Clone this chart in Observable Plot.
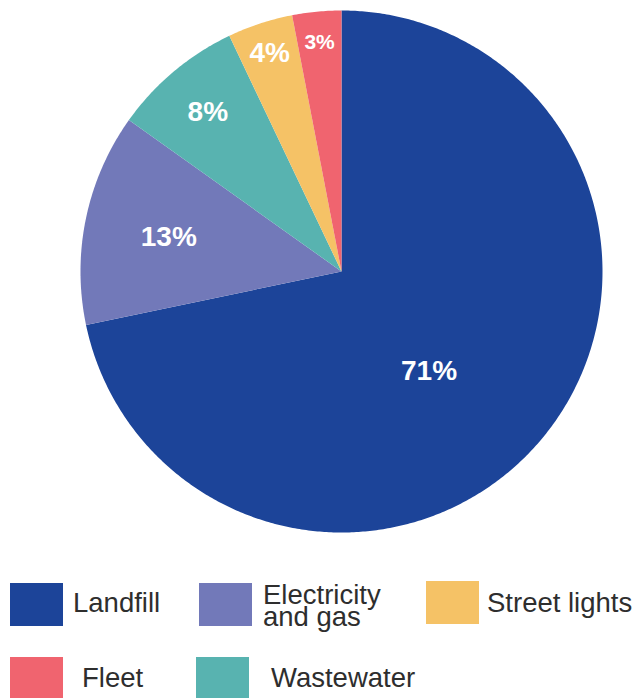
<!DOCTYPE html>
<html>
<head>
<meta charset="utf-8">
<script src="https://cdn.jsdelivr.net/npm/d3@7"></script>
<script src="https://cdn.jsdelivr.net/npm/@observablehq/plot@0.6"></script>
<style>
  html, body { margin: 0; padding: 0; background: #fff; }
  #wrap { position: relative; width: 635px; height: 698px; overflow: hidden; }
  #chart svg { display: block; }
  .sw { position: absolute; width: 53px; height: 43px; }
  .lab { position: absolute; font-family: "Liberation Sans", Arial, sans-serif; font-size: 27.5px; color: #2e2e2e; line-height: 22px; height: 22px; white-space: nowrap; }
</style>
</head>
<body>
<div id="wrap">
  <div id="chart"></div>
  <div id="legend"></div>
</div>
<script>
// ---- data ----
const categories = ["Landfill", "Electricity and gas", "Wastewater", "Street lights", "Fleet"];
const values = [71, 13, 8, 4, 3];
const labels = ["71%", "13%", "8%", "4%", "3%"];
const colors = ["#1c4499", "#7279b9", "#58b3b0", "#f5c266", "#f0646f"];

// legend order and text lines
const legendNames = ["Landfill", "Electricity and gas", "Street lights", "Fleet", "Wastewater"];
const legendText = [["Landfill"], ["Electricity", "and gas"], ["Street lights"], ["Fleet"], ["Wastewater"]];

// ---- layout (styles/positions, not data) ----
const labelRadius = [0.508, 0.675, 0.797, 0.882, 0.884];
const labelAngleShift = [9.6, -0.5, 0, 0, 0]; // degrees
const labelSize = [28, 28, 28, 28, 21];
const legendLayout = [
  {sx: 10, sy: 583, tx: 73, ty: 591.5},
  {sx: 199, sy: 583, tx: 263, ty: 583.5},
  {sx: 426, sy: 581, tx: 487, ty: 591.5},
  {sx: 10, sy: 657, tx: 82, ty: 666.5},
  {sx: 196, sy: 657, tx: 271, ty: 666.5}
];
const legendLineGap = 22;

// ---- build slices ----
const rows = categories.map((c, i) => ({name: c, value: values[i], label: labels[i], i}));
const arcs = d3.pie().sort(null).value(d => d.value).startAngle(0).endAngle(2 * Math.PI)(rows);

const pts = [];
arcs.forEach(a => {
  const name = a.data.name;
  pts.push({name, x: 0, y: 0});
  const n = Math.max(2, Math.ceil((a.endAngle - a.startAngle) / (Math.PI / 360)));
  for (let k = 0; k <= n; k++) {
    const t = a.startAngle + (a.endAngle - a.startAngle) * k / n;
    pts.push({name, x: Math.sin(t), y: Math.cos(t)});
  }
  pts.push({name, x: 0, y: 0});
});

const textPts = arcs.map(a => {
  const i = a.data.i;
  const mid = (a.startAngle + a.endAngle) / 2 + labelAngleShift[i] * Math.PI / 180;
  const r = labelRadius[i];
  return {x: r * Math.sin(mid), y: r * Math.cos(mid), text: a.data.label, size: labelSize[i]};
});

const plot = Plot.plot({
  width: 635,
  height: 545,
  marginLeft: 80,
  marginRight: 33,
  marginTop: 10,
  marginBottom: 13,
  x: {domain: [-1, 1], axis: null},
  y: {domain: [-1, 1], axis: null},
  color: {domain: categories, range: colors},
  style: {background: "#fff", fontFamily: "Liberation Sans, Arial, sans-serif"},
  marks: [
    Plot.line(pts, {x: "x", y: "y", z: "name", fill: "name", stroke: "none", curve: "linear"}),
    Plot.text(textPts.filter(d => d.size >= 25), {x: "x", y: "y", text: "text", fill: "white", fontWeight: "bold", fontSize: 28}),
    Plot.text(textPts.filter(d => d.size < 25), {x: "x", y: "y", text: "text", fill: "white", fontWeight: "bold", fontSize: 21})
  ]
});
document.getElementById("chart").appendChild(plot);

// ---- legend ----
const legend = document.getElementById("legend");
legendNames.forEach((nm, j) => {
  const L = legendLayout[j];
  const sw = document.createElement("div");
  sw.className = "sw";
  sw.style.left = L.sx + "px";
  sw.style.top = L.sy + "px";
  sw.style.background = colors[categories.indexOf(nm)];
  legend.appendChild(sw);
  legendText[j].forEach((line, k) => {
    const lab = document.createElement("div");
    lab.className = "lab";
    lab.style.left = L.tx + "px";
    lab.style.top = (L.ty + k * legendLineGap) + "px";
    lab.textContent = line;
    legend.appendChild(lab);
  });
});
</script>
</body>
</html>
